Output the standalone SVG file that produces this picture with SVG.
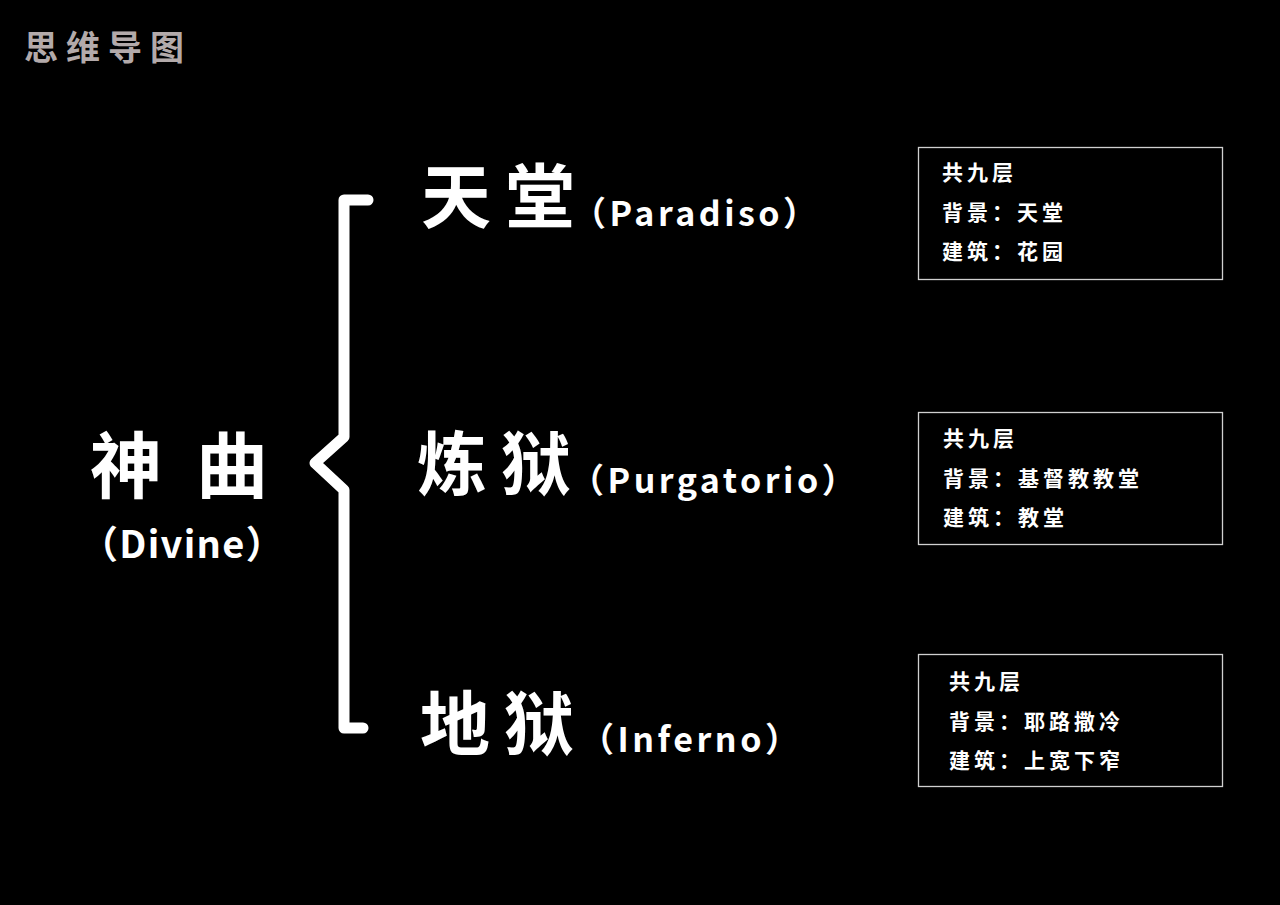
<svg xmlns="http://www.w3.org/2000/svg" width="1280" height="905" viewBox="0 0 1280 905">
<style>
.t{font-family:"Noto Sans CJK SC","Noto Sans",sans-serif;font-weight:bold;fill:#fff}
.big{font-size:70px;letter-spacing:14px}
.lat{font-size:34px;letter-spacing:3.5px}
.info{font-size:21px;letter-spacing:4px}
.box{fill:none;stroke:#d0d0d0;stroke-width:1.3}
</style>
<rect width="1280" height="905" fill="#000"/>
<text class="t" x="24" y="60" style="font-size:34px;letter-spacing:8px;fill:#b3aaaa">思维导图</text>
<g id="root">
<text class="t" x="90" y="492" style="font-size:72px">神</text>
<text class="t" x="196" y="492" style="font-size:72px">曲</text>
<text class="t" x="80" y="558" style="font-size:38px;letter-spacing:1.3px">（Divine）</text>
</g>
<g id="connectors">
<path d="M368,200 L344,200 L344,437 L315,463 L344,490 L344,728 L363,728" fill="none" stroke="#fff" stroke-width="11" stroke-linecap="round" stroke-linejoin="round"/>
</g>
<g id="paradiso">
<text class="t big" x="421" y="223">天堂</text>
<text class="t lat" x="572" y="226">（Paradiso）</text>
</g>
<g id="purgatorio">
<text class="t big" x="417" y="490">炼狱</text>
<text class="t lat" x="570" y="493">（Purgatorio）</text>
</g>
<g id="inferno">
<text class="t big" x="420" y="750">地狱</text>
<text class="t lat" x="580" y="752">（Inferno）</text>
</g>
<g id="info1">
<rect class="box" x="918.5" y="147.5" width="304" height="132"/>
<text class="t info" x="942" y="180">共九层</text>
<text class="t info" x="942" y="220">背景：天堂</text>
<text class="t info" x="942" y="259">建筑：花园</text>
</g>
<g id="info2">
<rect class="box" x="918.5" y="412.5" width="304" height="132"/>
<text class="t info" x="943" y="446">共九层</text>
<text class="t info" x="943" y="486">背景：基督教教堂</text>
<text class="t info" x="943" y="525">建筑：教堂</text>
</g>
<g id="info3">
<rect class="box" x="918.5" y="654.5" width="304" height="132"/>
<text class="t info" x="949" y="689">共九层</text>
<text class="t info" x="949" y="729">背景：耶路撒冷</text>
<text class="t info" x="949" y="768">建筑：上宽下窄</text>
</g>
</svg>
